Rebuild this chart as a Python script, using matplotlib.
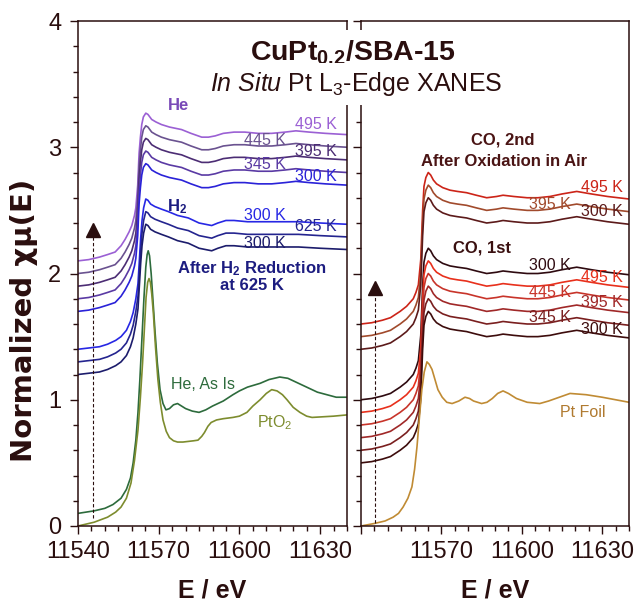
import numpy as np
import matplotlib.pyplot as plt
from matplotlib.ticker import FixedLocator, MultipleLocator, NullFormatter

plt.rcParams['font.family'] = ['Liberation Sans', 'DejaVu Sans']
plt.rcParams['mathtext.fontset'] = 'custom'
plt.rcParams['mathtext.rm'] = 'Liberation Sans'
plt.rcParams['mathtext.it'] = 'Liberation Sans:italic'
plt.rcParams['mathtext.bf'] = 'Liberation Sans:bold'

DARK = '#2a0e0e'

# ---- values (normalized mu, before the vertical offset) ----
# He treatments (left panel)
e_he = [11540, 11544, 11548, 11551, 11553.8, 11556, 11557.5, 11559, 11560, 11561,
        11561.5, 11562.2, 11562.7, 11563.2, 11563.7, 11564.3, 11565.2, 11566, 11567.4, 11569,
        11571, 11574, 11578.5, 11582, 11586, 11588.5, 11591, 11594, 11598, 11602,
        11607, 11612, 11617, 11621, 11626, 11632, 11640]
mu_he = [0.00, 0.01, 0.03, 0.05, 0.07, 0.12, 0.17, 0.23, 0.28, 0.36,
         0.42, 0.60, 0.85, 0.98, 1.08, 1.14, 1.17, 1.16, 1.12, 1.10,
         1.08, 1.06, 1.04, 1.01, 0.98, 0.98, 0.99, 1.01, 1.02, 1.02,
         1.01, 1.01, 1.02, 1.03, 1.02, 1.01, 1.00]
he_temps = ['495 K', '445 K', '395 K', '345 K', '300 K']
he_offsets = [2.1, 2.0, 1.9, 1.8, 1.7]
he_colors = ['#9b60d4', '#6a5290', '#4c2d74', '#5a3aa4', '#2a22d8']

# H2 treatments (left panel)
e_h2 = [11540, 11544, 11548, 11551, 11554, 11556, 11558, 11559.5, 11560.5, 11561.5,
        11562.3, 11562.8, 11563.3, 11563.8, 11564.4, 11565.2, 11566, 11567, 11568.6, 11571,
        11573.6, 11577, 11581, 11585, 11589.7, 11592, 11595, 11598, 11603, 11610,
        11617, 11622, 11630, 11640]
mu_h2 = [0.00, 0.01, 0.02, 0.04, 0.07, 0.10, 0.15, 0.22, 0.29, 0.40,
         0.52, 0.70, 0.88, 1.02, 1.12, 1.19, 1.18, 1.15, 1.13, 1.11,
         1.09, 1.06, 1.04, 1.00, 0.98, 1.00, 1.02, 1.02, 1.01, 1.01,
         1.01, 1.01, 1.00, 0.99]
h2_temps = ['300 K', '625 K', '300 K']
h2_offsets = [1.4, 1.3, 1.2]
h2_colors = ['#2727e4', '#24248f', '#1c1c6c']

# He, as is (offset 0.1)
e_asis = [11540, 11546, 11550, 11553, 11556, 11558, 11559.5, 11560.5, 11561.5, 11562.3,
          11563, 11563.8, 11564.5, 11565.2, 11565.7, 11566.1, 11566.6, 11567.2, 11567.8, 11568.6,
          11569.5, 11570.5, 11571.6, 11572.7, 11574, 11575.5, 11577, 11578.5, 11580, 11582.5,
          11585, 11587.5, 11590, 11594, 11597.6, 11600, 11603, 11607.7, 11611, 11615,
          11618, 11621, 11625, 11629, 11632.5, 11636, 11640]
mu_asis = [0.00, 0.02, 0.04, 0.07, 0.12, 0.19, 0.28, 0.40, 0.58, 0.80,
           1.06, 1.40, 1.70, 1.95, 2.05, 2.08, 2.04, 1.90, 1.71, 1.45,
           1.19, 0.98, 0.87, 0.82, 0.83, 0.86, 0.87, 0.85, 0.83, 0.81,
           0.80, 0.82, 0.85, 0.89, 0.94, 0.97, 1.00, 1.03, 1.06, 1.08,
           1.07, 1.04, 1.00, 0.96, 0.94, 0.92, 0.92]
asis_offset = 0.1

# PtO2 reference
e_pto2 = [11540, 11546, 11551, 11554, 11556, 11558, 11559.7, 11561, 11562.3, 11563.2,
          11564, 11564.7, 11565.3, 11565.9, 11566.4, 11566.9, 11567.4, 11568, 11568.8, 11569.7,
          11570.6, 11571.6, 11572.8, 11574, 11575.5, 11577, 11579, 11581, 11583, 11584.6,
          11586, 11587, 11588.3, 11589.5, 11591.5, 11594, 11597.6, 11600, 11602.8, 11605,
          11607.7, 11610, 11612, 11614, 11616, 11617.7, 11620, 11622.5, 11625, 11627,
          11631, 11635, 11640]
mu_pto2 = [0.00, 0.03, 0.07, 0.11, 0.15, 0.22, 0.34, 0.52, 0.76, 1.02,
           1.29, 1.57, 1.81, 1.93, 1.96, 1.93, 1.84, 1.69, 1.42, 1.16,
           0.98, 0.84, 0.75, 0.70, 0.675, 0.665, 0.665, 0.67, 0.675, 0.68,
           0.71, 0.74, 0.79, 0.82, 0.84, 0.85, 0.86, 0.87, 0.90, 0.95,
           1.00, 1.05, 1.08, 1.07, 1.04, 1.00, 0.94, 0.90, 0.87, 0.86,
           0.865, 0.87, 0.88]

# CO treatments (right panel)
e_co = [11540, 11544, 11548, 11551, 11554.6, 11557, 11559.5, 11560.5, 11561.4, 11562.3,
        11563, 11563.5, 11564.2, 11565.1, 11566, 11567, 11568.2, 11570.5, 11573.2, 11576,
        11579.4, 11583, 11586.9, 11590.6, 11593, 11597, 11602, 11606, 11610.5, 11615,
        11620.5, 11626, 11632, 11640]
mu_co = [0.00, 0.01, 0.03, 0.05, 0.10, 0.14, 0.20, 0.25, 0.31, 0.51,
         0.90, 1.09, 1.16, 1.20, 1.18, 1.14, 1.11, 1.08, 1.06, 1.05,
         1.04, 1.02, 1.00, 1.01, 1.02, 1.01, 1.00, 1.00, 1.01, 1.03,
         1.05, 1.03, 1.01, 0.99]
co2_temps = ['495 K', '395 K', '300 K']
co2_offsets = [1.6, 1.5, 1.4]
co2_colors = ['#cc2418', '#a14a2c', '#5c1a1a']
co1_temps = ['300 K', '495 K', '445 K', '395 K', '345 K', '300 K']
co1_offsets = [1.0, 0.9, 0.8, 0.7, 0.6, 0.5]
co1_colors = ['#2e0a10', '#e8301c', '#c8342a', '#a02828', '#7a1f1f', '#3d0c0c']

# Pt foil reference
e_foil = [11540, 11545, 11549, 11552, 11554, 11555.7, 11557.5, 11559, 11560, 11560.9,
          11561.8, 11562.7, 11563.6, 11564.6, 11565.5, 11566.5, 11567.6, 11568.7, 11570.3, 11572,
          11574, 11576.5, 11578.8, 11580.5, 11582, 11585, 11587, 11589, 11591, 11593,
          11595, 11598, 11602, 11606.7, 11610, 11614, 11618, 11624, 11630, 11635,
          11640]
mu_foil = [0.00, 0.02, 0.04, 0.07, 0.10, 0.15, 0.22, 0.31, 0.45, 0.63,
           0.86, 1.08, 1.22, 1.30, 1.28, 1.24, 1.16, 1.08, 1.02, 0.98,
           0.97, 0.99, 1.02, 1.01, 0.99, 0.97, 0.98, 1.01, 1.05, 1.07,
           1.05, 1.01, 0.98, 0.97, 0.99, 1.02, 1.05, 1.04, 1.02, 1.00,
           0.98]

fig = plt.figure(figsize=(6.39, 6.04), dpi=100)
W, H = 639, 604
ax1 = fig.add_axes([78 / W, 1 - 526 / H, 269 / W, 505 / H])
ax2 = fig.add_axes([361 / W, 1 - 526 / H, 268 / W, 505 / H])

LW = 1.2
for off, c in zip(he_offsets, he_colors):
    ax1.plot(e_he, np.array(mu_he) + off, color=c, lw=LW)
for off, c in zip(h2_offsets, h2_colors):
    ax1.plot(e_h2, np.array(mu_h2) + off, color=c, lw=LW)
ax1.plot(e_asis, np.array(mu_asis) + asis_offset, color='#2d6b3c', lw=LW)
ax1.plot(e_pto2, mu_pto2, color='#7d8c2e', lw=LW)

for off, c in zip(co2_offsets, co2_colors):
    ax2.plot(e_co, np.array(mu_co) + off, color=c, lw=LW)
for off, c in zip(co1_offsets, co1_colors):
    ax2.plot(e_co, np.array(mu_co) + off, color=c, lw=LW)
ax2.plot(e_foil, mu_foil, color='#c08b34', lw=LW)

# dashed arrows
ax1.plot([11545.5, 11545.5], [0.06, 2.29], color=DARK, lw=0.8, ls=(0, (3, 2)))
ax1.plot(11545.5, 2.345, marker='^', ms=9.5, color=DARK, mec=DARK)
ax2.plot([11545.2, 11545.2], [0.02, 1.83], color=DARK, lw=0.8, ls=(0, (3, 2)))
ax2.plot(11545.2, 1.885, marker='^', ms=9.5, color=DARK, mec=DARK)

# labels, left panel
fs = 11.5
ax1.text(11577.2, 3.33, 'He', color='#7a4ab8', fontsize=12, fontweight='bold', ha='center', va='center')
ax1.text(11576.8, 2.53, 'H$_\\mathbf{2}$', color='#1c1c80', fontsize=12, fontweight='bold', ha='center', va='center')
he_lab = [(11628.5, 3.18), (11609.5, 3.05), (11628.5, 2.97), (11609.5, 2.86), (11628.5, 2.77)]
for t, (x, y), c in zip(he_temps, he_lab, he_colors):
    ax1.text(x, y, t, color=c, fontsize=fs, ha='center', va='center')
h2_lab = [(11609.5, 2.46), (11628.5, 2.37), (11609.5, 2.24)]
for t, (x, y), c in zip(h2_temps, h2_lab, h2_colors):
    ax1.text(x, y, t, color=c, fontsize=fs, ha='center', va='center')
ax1.text(11604.7, 1.98, 'After H$_\\mathbf{2}$ Reduction\nat 625 K', color='#1c1c80', fontsize=12,
         fontweight='bold', ha='center', va='center', linespacing=1.05)
ax1.text(11586.5, 1.12, 'He, As Is', color='#2d6b3c', fontsize=fs, ha='center', va='center')
ax1.text(11613, 0.82, 'PtO$_2$', color='#7d8c2e', fontsize=fs, ha='center', va='center')

# labels, right panel
ax2.text(11593, 3.06, 'CO, 2nd', color='#4a1414', fontsize=12, fontweight='bold', ha='center', va='center')
ax2.text(11593.5, 2.89, 'After Oxidation in Air', color='#4a1414', fontsize=12, fontweight='bold',
         ha='center', va='center')
co2_lab = [(11629.8, 2.68), (11610.4, 2.55), (11629.8, 2.49)]
for t, (x, y), c in zip(co2_temps, co2_lab, co2_colors):
    ax2.text(x, y, t, color=c, fontsize=fs, ha='center', va='center')
ax2.text(11585, 2.20, 'CO, 1st', color='#3a1010', fontsize=12, fontweight='bold', ha='center', va='center')
co1_lab = [(11610.4, 2.06), (11629.8, 1.97), (11610.4, 1.85), (11629.8, 1.77), (11610.4, 1.65), (11629.8, 1.56)]
for t, (x, y), c in zip(co1_temps, co1_lab, co1_colors):
    ax2.text(x, y, t, color=c, fontsize=fs, ha='center', va='center')
ax2.text(11622.8, 0.90, 'Pt Foil', color='#b07a30', fontsize=fs, ha='center', va='center')

for ax in (ax1, ax2):
    ax.set_xlim(11540, 11640)
    ax.set_ylim(0, 4)
    ax.xaxis.set_major_locator(FixedLocator([11540, 11570, 11600, 11630]))
    ax.xaxis.set_minor_locator(MultipleLocator(5))
    ax.yaxis.set_major_locator(FixedLocator([0, 1, 2, 3, 4]))
    ax.yaxis.set_minor_locator(MultipleLocator(0.2))
    ax.tick_params(which='both', direction='out', colors=DARK, width=1.0, labelsize=17)
    ax.tick_params(which='major', length=6, pad=5)
    ax.tick_params(which='minor', length=3.5)
    ax.tick_params(axis='y', which='major', pad=6)
    for s in ax.spines.values():
        s.set_color(DARK)
        s.set_linewidth(1.1)
    ax.set_xlabel('E / eV', fontsize=18, fontweight='bold', color=DARK, labelpad=11)

ax1.set_xticklabels(['11540', '11570', '11600', '11630'])
ax2.set_xticklabels(['', '11570', '11600', '11630'])
ax2.yaxis.set_major_formatter(NullFormatter())

fig.text(24 / W, 1 - 320 / H, 'Normalized χμ(E)', rotation=90, fontsize=21, fontweight='bold',
         family='DejaVu Sans', color=DARK, ha='center', va='center')

fig.text(353 / W, 1 - 53 / H, 'CuPt$_\\mathbf{0.2}$/SBA-15', fontsize=20.5, fontweight='bold', color=DARK,
         ha='center', va='center', bbox=dict(facecolor='white', edgecolor='none', pad=6))
fig.text(356 / W, 1 - 84 / H, '$\\mathit{In\\ Situ}$ Pt L$_3$-Edge XANES', fontsize=18, color=DARK,
         ha='center', va='center', bbox=dict(facecolor='white', edgecolor='none', pad=5))

fig.savefig('out.png', dpi=100)
